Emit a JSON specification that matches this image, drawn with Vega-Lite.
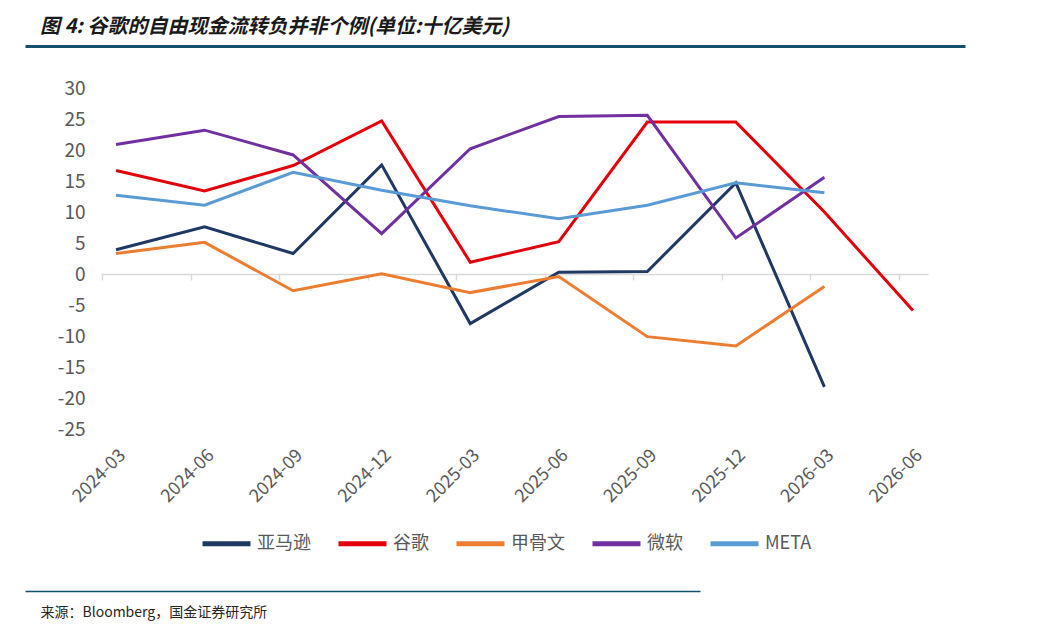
{
  "$schema": "https://vega.github.io/schema/vega-lite/v6.json",
  "width": 940,
  "height": 341,
  "autosize": "none",
  "padding": {"left": 25, "top": 88, "right": 97, "bottom": 198},
  "background": "white",
  "config": {
    "view": {"stroke": null},
    "font": "Noto Sans CJK SC"
  },
  "title": {
    "text": "图 4: 谷歌的自由现金流转负并非个例(单位:十亿美元)",
    "anchor": "start",
    "frame": "group",
    "dx": 15,
    "offset": 9,
    "fontSize": 20,
    "fontStyle": "italic",
    "fontWeight": "bold",
    "color": "#1a1a1a"
  },
  "resolve": {"scale": {"x": "independent"}, "axis": {"x": "independent"}},
  "layer": [
    {
      "data": {"name": "fcf"},
      "mark": {"type": "line", "strokeWidth": 3},
      "encoding": {
        "x": {
          "field": "period",
          "type": "ordinal",
          "sort": null,
          "scale": {"type": "point", "range": [76, 903], "padding": 0.17},
          "axis": {
            "title": null,
            "labelAngle": -45,
            "labelFontSize": 18,
            "labelColor": "#595959",
            "labelPadding": 17,
            "labelOverlap": false,
            "domain": false,
            "ticks": false,
            "grid": false
          }
        },
        "y": {
          "field": "value",
          "type": "quantitative",
          "scale": {"domain": [-25, 30], "nice": false, "zero": false},
          "axis": {
            "title": null,
            "values": [-25, -20, -15, -10, -5, 0, 5, 10, 15, 20, 25, 30],
            "labelExpr": "replace(datum.label, '−', '-')",
            "offset": -76,
            "labelPadding": 16,
            "labelFontSize": 19,
            "labelColor": "#595959",
            "labelOverlap": false,
            "labelFlush": false,
            "domain": false,
            "ticks": false,
            "grid": false
          }
        },
        "color": {
          "field": "company",
          "type": "nominal",
          "scale": {
            "domain": ["亚马逊", "谷歌", "甲骨文", "微软", "META"],
            "range": ["#1f3864", "#e3000b", "#ed7d31", "#7030a0", "#5b9bd5"]
          },
          "legend": {
            "title": null,
            "orient": "none",
            "direction": "horizontal",
            "legendX": 175,
            "legendY": 429,
            "symbolType": "stroke",
            "symbolSize": 2304,
            "symbolStrokeWidth": 5,
            "labelFontSize": 18,
            "labelColor": "#595959",
            "labelOffset": 4,
            "columnPadding": 17
          }
        }
      }
    },
    {
      "data": {"name": "fcf"},
      "mark": {"type": "point", "opacity": 0},
      "encoding": {
        "x": {
          "field": "period",
          "type": "ordinal",
          "sort": null,
          "scale": {"type": "point", "range": [76, 903], "padding": 0.17},
          "axis": {
            "title": null,
            "orient": "bottom",
            "offset": -155,
            "labels": false,
            "domainColor": "#d9d9d9",
            "domainWidth": 1.5,
            "tickColor": "#d9d9d9",
            "tickWidth": 1.5,
            "tickSize": 6,
            "tickOffset": -14,
            "grid": false
          }
        }
      }
    },
    {
      "data": {"values": [{"v": 0}, {"v": 1}]},
      "mark": {"type": "point", "opacity": 0},
      "encoding": {
        "x": {
          "field": "v",
          "type": "quantitative",
          "scale": {"domain": [0, 1], "nice": false},
          "axis": {
            "title": null,
            "orient": "top",
            "offset": 42,
            "labels": false,
            "ticks": false,
            "grid": false,
            "domainColor": "#13506e",
            "domainWidth": 3
          }
        }
      }
    },
    {
      "data": {"values": [{"s": 0}, {"s": 1}]},
      "mark": {"type": "point", "opacity": 0},
      "encoding": {
        "x": {
          "field": "s",
          "type": "quantitative",
          "scale": {"domain": [0, 1], "nice": false, "range": [0, 675]},
          "axis": {
            "title": "来源：Bloomberg，国金证券研究所",
            "orient": "bottom",
            "offset": 162,
            "labels": false,
            "ticks": false,
            "grid": false,
            "domainColor": "#13506e",
            "domainWidth": 1.5,
            "titleAnchor": "start",
            "titleAlign": "left",
            "titleBaseline": "alphabetic",
            "titleX": 15,
            "titleY": 25,
            "titleFontSize": 14,
            "titleFontWeight": "normal",
            "titleColor": "#262626"
          }
        }
      }
    }
  ],
  "datasets": {
    "fcf": [
      {"period": "2024-03", "company": "亚马逊", "value": 3.9},
      {"period": "2024-06", "company": "亚马逊", "value": 7.6},
      {"period": "2024-09", "company": "亚马逊", "value": 3.3},
      {"period": "2024-12", "company": "亚马逊", "value": 17.6},
      {"period": "2025-03", "company": "亚马逊", "value": -8.0},
      {"period": "2025-06", "company": "亚马逊", "value": 0.3},
      {"period": "2025-09", "company": "亚马逊", "value": 0.4},
      {"period": "2025-12", "company": "亚马逊", "value": 14.7},
      {"period": "2026-03", "company": "亚马逊", "value": -18.2},
      {"period": "2024-03", "company": "谷歌", "value": 16.7},
      {"period": "2024-06", "company": "谷歌", "value": 13.4},
      {"period": "2024-09", "company": "谷歌", "value": 17.5},
      {"period": "2024-12", "company": "谷歌", "value": 24.7},
      {"period": "2025-03", "company": "谷歌", "value": 1.9},
      {"period": "2025-06", "company": "谷歌", "value": 5.2},
      {"period": "2025-09", "company": "谷歌", "value": 24.5},
      {"period": "2025-12", "company": "谷歌", "value": 24.5},
      {"period": "2026-03", "company": "谷歌", "value": 10.0},
      {"period": "2026-06", "company": "谷歌", "value": -5.9},
      {"period": "2024-03", "company": "甲骨文", "value": 3.3},
      {"period": "2024-06", "company": "甲骨文", "value": 5.1},
      {"period": "2024-09", "company": "甲骨文", "value": -2.7},
      {"period": "2024-12", "company": "甲骨文", "value": 0.05},
      {"period": "2025-03", "company": "甲骨文", "value": -3.0},
      {"period": "2025-06", "company": "甲骨文", "value": -0.4},
      {"period": "2025-09", "company": "甲骨文", "value": -10.1},
      {"period": "2025-12", "company": "甲骨文", "value": -11.6},
      {"period": "2026-03", "company": "甲骨文", "value": -2.0},
      {"period": "2024-03", "company": "微软", "value": 20.9},
      {"period": "2024-06", "company": "微软", "value": 23.2},
      {"period": "2024-09", "company": "微软", "value": 19.2},
      {"period": "2024-12", "company": "微软", "value": 6.5},
      {"period": "2025-03", "company": "微软", "value": 20.2},
      {"period": "2025-06", "company": "微软", "value": 25.4},
      {"period": "2025-09", "company": "微软", "value": 25.6},
      {"period": "2025-12", "company": "微软", "value": 5.8},
      {"period": "2026-03", "company": "微软", "value": 15.6},
      {"period": "2024-03", "company": "META", "value": 12.7},
      {"period": "2024-06", "company": "META", "value": 11.1},
      {"period": "2024-09", "company": "META", "value": 16.4},
      {"period": "2024-12", "company": "META", "value": 13.5},
      {"period": "2025-03", "company": "META", "value": 11.0},
      {"period": "2025-06", "company": "META", "value": 8.9},
      {"period": "2025-09", "company": "META", "value": 11.1},
      {"period": "2025-12", "company": "META", "value": 14.7},
      {"period": "2026-03", "company": "META", "value": 13.1},
      {"period": "2026-06", "company": "META", "value": null}
    ]
  }
}
